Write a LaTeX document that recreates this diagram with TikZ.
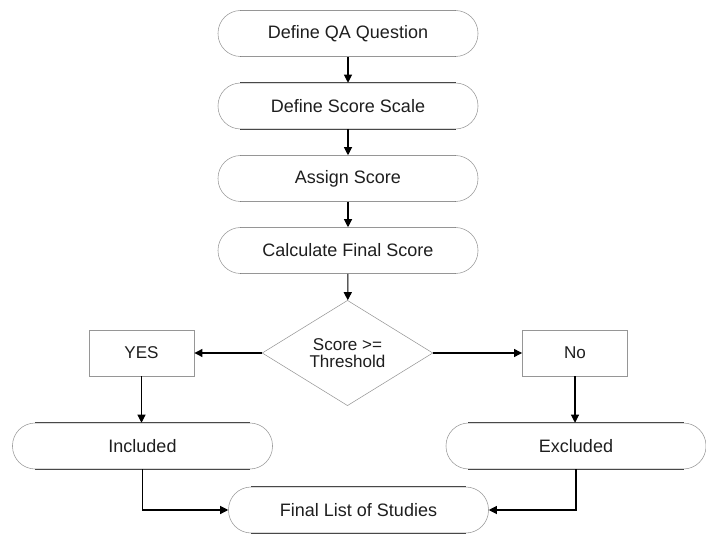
\documentclass[tikz,border=0pt]{standalone}
\usepackage{fontspec}
\setmainfont{Liberation Sans}
\usepackage{tikz}
\usetikzlibrary{shapes, arrows.meta, positioning}

\definecolor{edgegray}{RGB}{150, 150, 150}
\definecolor{inkdark}{RGB}{30, 30, 30}

\tikzset{
  stadium/.style={draw=edgegray, rounded corners=17pt, minimum width=195pt, minimum height=34.5pt,
    inner sep=0pt, font=\fontsize{13.5}{15}\selectfont, text=inkdark,
    append after command={\pgfextra{\draw[inkdark, line width=0.5pt]
      ([xshift=17pt]\tikzlastnode.north west) -- ([xshift=-17pt]\tikzlastnode.north east)
      ([xshift=17pt]\tikzlastnode.south west) -- ([xshift=-17pt]\tikzlastnode.south east);}}},
  decision/.style={diamond, draw=edgegray, minimum width=128pt, minimum height=79pt, inner sep=0pt,
    align=center, font=\fontsize{12.8}{12.8}\selectfont, text=inkdark},
  answerbox/.style={draw=edgegray, minimum width=79pt, minimum height=34.5pt, inner sep=0pt,
    font=\fontsize{12.8}{15}\selectfont, text=inkdark},
  flowarrow/.style={-{Triangle[length=6pt, width=6pt]}, line width=0.8pt, black}
}

\begin{document}
\begin{tikzpicture}[x=0.75pt, y=-0.75pt]
  \useasboundingbox (0,0) rectangle (706,534);

  % main column
  \node[stadium] (question) at (348,33.5) {Define QA Question};
  \node[stadium] (scale) at (348,106) {Define Score Scale};
  \node[stadium] (assign) at (348,178.5) {Assign Score};
  \node[stadium] (final) at (348,250.5) {Calculate Final Score};
  \node[decision] (check) at (347.5,353) {Score >=\\Threshold};

  % branches
  \node[answerbox] (yes) at (141.5,353) {YES};
  \node[answerbox] (no) at (575,353) {No};
  \node[stadium] (incl) at (142.5,446) {Included};
  \node[stadium] (excl) at (576,446) {Excluded};
  \node[stadium] (studies) at (358.5,510) {Final List of Studies};

  \draw[flowarrow] (question) -- (scale);
  \draw[flowarrow] (scale) -- (assign);
  \draw[flowarrow] (assign) -- (final);
  \draw[flowarrow] (final) -- (check);
  \draw[flowarrow] (check) -- (yes);
  \draw[flowarrow] (check) -- (no);
  \draw[flowarrow] (yes) -- (yes |- incl.north);
  \draw[flowarrow] (no) -- (no |- excl.north);
  \draw[flowarrow] (incl.south) |- (studies.west);
  \draw[flowarrow] (excl.south) |- (studies.east);
\end{tikzpicture}
\end{document}
